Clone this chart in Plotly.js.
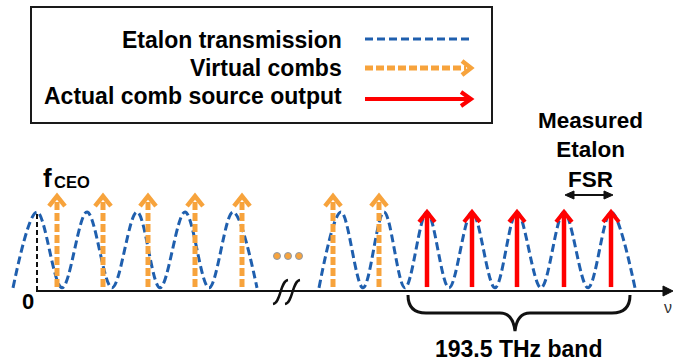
<!DOCTYPE html>
<html>
<head>
<meta charset="utf-8">
<script src="https://cdn.plot.ly/plotly-3.0.1.min.js"></script>
<style>html,body{margin:0;padding:0;background:#fff;}#chart{width:673px;height:363px;}</style>
</head>
<body>
<div id="chart"></div>
<script>
// ---------------- data ----------------
// etalon transmission: peak and trough positions (frequency axis, arbitrary units)
const etalonPeaks1   = [37, 87, 137, 185, 233];
const etalonTroughs1 = [13, 62, 112, 160, 209, 257];
const etalonPeaks2   = [341, 384, 427, 472, 517, 564, 611];
const etalonTroughs2 = [319, 363, 405, 449, 495, 541, 588, 635];
const peakT = 1.0;      // normalised transmission at peaks
const troughT = 0.04;   // transmission at troughs
// virtual comb lines (orange dashed arrows)
const virtualX1 = [57, 103, 148, 195, 242];
const virtualX2 = [333, 379];
const virtualTop = 1.2;
// actual comb source output lines (red arrows)
const actualX = [427, 472, 517, 564, 611];
const actualTop = 1.0;
const combBase = 0.05;
// labels
const legendLabels = ['Etalon transmission', 'Virtual combs', 'Actual comb source output'];
const zeroLabel = '0';
const bandLabel = '193.5 THz band';
const fsrLabel = 'Measured<br>Etalon<br>FSR';
const axisLabel = 'ν';

// ---------------- geometry helpers ----------------
const W = 673, H = 363;
const BASE_PX = 291, UNIT_PX = 79;            // y: 0 at axis line, 1 at etalon peak
const yRange = [(BASE_PX - H) / UNIT_PX, BASE_PX / UNIT_PX];
const pxY = p => p / UNIT_PX;                 // pixel length -> y units
const PX = x => x / W;
const PY = y => 1 - y / H;
const P = (x, y) => PX(x).toFixed(5) + ',' + PY(y).toFixed(5);

const BLUE = '#1f5fae', ORANGE = '#f7a33c', RED = '#ff0000', BLACK = '#111111';
const FONT = 'Liberation Sans, Arial, sans-serif';

function interleave(troughs, peaks) {
  const xs = [], ys = [];
  for (let i = 0; i < troughs.length; i++) {
    xs.push(troughs[i]); ys.push(troughT);
    if (i < peaks.length) { xs.push(peaks[i]); ys.push(peakT); }
  }
  return {xs, ys};
}
const g1 = interleave(etalonTroughs1, etalonPeaks1);
const g2 = interleave(etalonTroughs2, etalonPeaks2);

function arrows(xs, top, headDx, headDy, shaftGap) {
  const sx = [], sy = [], hx = [], hy = [];
  xs.forEach(x => {
    sx.push(x, x, null); sy.push(combBase, top - shaftGap, null);
    hx.push(x - headDx, x, x + headDx, null);
    hy.push(top - headDy, top, top - headDy, null);
  });
  return {sx, sy, hx, hy};
}
const vAll = virtualX1.concat(virtualX2);
const va = arrows(vAll, virtualTop, 8, pxY(10), pxY(3));
const ra = arrows(actualX, actualTop, 8, pxY(10), pxY(2));

const traces = [
  {x: g1.xs, y: g1.ys, mode: 'lines', line: {shape: 'spline', smoothing: 1, color: BLUE, width: 3, dash: '8px,4px'}, hoverinfo: 'skip'},
  {x: g2.xs, y: g2.ys, mode: 'lines', line: {shape: 'spline', smoothing: 1, color: BLUE, width: 3, dash: '8px,4px'}, hoverinfo: 'skip'},
  {x: va.sx, y: va.sy, mode: 'lines', line: {color: ORANGE, width: 5, dash: '8px,3px'}, hoverinfo: 'skip'},
  {x: va.hx, y: va.hy, mode: 'lines', line: {color: ORANGE, width: 4.5}, hoverinfo: 'skip'},
  {x: ra.sx, y: ra.sy, mode: 'lines', line: {color: RED, width: 4.5}, hoverinfo: 'skip'},
  {x: ra.hx, y: ra.hy, mode: 'lines', line: {color: RED, width: 4}, hoverinfo: 'skip'}
];

const shapes = [
  // legend box
  {type: 'rect', xref: 'paper', yref: 'paper', x0: PX(31), x1: PX(492), y0: PY(123), y1: PY(7), line: {color: '#1a1a1a', width: 2}},
  // legend samples
  {type: 'line', xref: 'paper', yref: 'paper', x0: PX(365), x1: PX(470), y0: PY(39), y1: PY(39), line: {color: BLUE, width: 3, dash: '8px,4px'}},
  {type: 'line', xref: 'paper', yref: 'paper', x0: PX(365), x1: PX(466), y0: PY(68), y1: PY(68), line: {color: ORANGE, width: 5, dash: '8px,3px'}},
  {type: 'path', xref: 'paper', yref: 'paper', path: 'M' + P(462, 61) + 'L' + P(471, 68) + 'L' + P(462, 75), line: {color: ORANGE, width: 4.5}},
  {type: 'line', xref: 'paper', yref: 'paper', x0: PX(365), x1: PX(469), y0: PY(99), y1: PY(99), line: {color: RED, width: 4}},
  {type: 'path', xref: 'paper', yref: 'paper', path: 'M' + P(461, 92) + 'L' + P(471, 99) + 'L' + P(461, 106), line: {color: RED, width: 4}},
  // frequency axis
  {type: 'line', xref: 'paper', yref: 'paper', x0: PX(36), x1: PX(666), y0: PY(291), y1: PY(291), line: {color: BLACK, width: 2}},
  {type: 'path', xref: 'paper', yref: 'paper', path: 'M' + P(663, 286) + 'L' + P(673, 291) + 'L' + P(663, 296) + 'Z', fillcolor: BLACK, line: {color: BLACK, width: 1}},
  // axis break marks
  {type: 'path', xref: 'paper', yref: 'paper', path: 'M' + P(288, 280) + 'C' + P(280, 281) + ' ' + P(281, 303) + ' ' + P(273, 304), line: {color: BLACK, width: 2.5}},
  {type: 'path', xref: 'paper', yref: 'paper', path: 'M' + P(300, 280) + 'C' + P(292, 281) + ' ' + P(293, 303) + ' ' + P(285, 304), line: {color: BLACK, width: 2.5}},
  // zero marker (dashed line at first etalon peak)
  {type: 'line', xref: 'x', yref: 'y', x0: etalonPeaks1[0], x1: etalonPeaks1[0], y0: 0, y1: peakT, line: {color: BLACK, width: 2, dash: '5px,3px'}},
  // FSR double arrow
  {type: 'line', xref: 'paper', yref: 'paper', x0: PX(572), x1: PX(606), y0: PY(195), y1: PY(195), line: {color: BLACK, width: 2}},
  {type: 'path', xref: 'paper', yref: 'paper', path: 'M' + P(574, 191) + 'L' + P(565, 195) + 'L' + P(574, 199) + 'Z', fillcolor: BLACK, line: {color: BLACK, width: 1}},
  {type: 'path', xref: 'paper', yref: 'paper', path: 'M' + P(604, 191) + 'L' + P(613, 195) + 'L' + P(604, 199) + 'Z', fillcolor: BLACK, line: {color: BLACK, width: 1}},
  // brace
  {type: 'path', xref: 'paper', yref: 'paper',
   path: 'M' + P(408, 295) + 'Q' + P(408, 313) + ' ' + P(426, 313) + 'L' + P(500, 313) + 'Q' + P(513, 313) + ' ' + P(515, 331) +
         'Q' + P(517, 313) + ' ' + P(530, 313) + 'L' + P(612, 313) + 'Q' + P(630, 313) + ' ' + P(630, 295),
   line: {color: BLACK, width: 3}}
];
// "..." dots
[277, 288, 299].forEach(x => shapes.push({type: 'circle', xref: 'paper', yref: 'paper',
  x0: PX(x - 3.5), x1: PX(x + 3.5), y0: PY(259.5), y1: PY(252.5), fillcolor: ORANGE, line: {color: '#8f9aa8', width: 1}}));

const bold = (size) => ({family: FONT, size: size, color: '#000', weight: 700});
const ann = (x, y, text, font, xanchor) => ({xref: 'paper', yref: 'paper', x: PX(x), y: PY(y), text: text, showarrow: false,
  font: font, xanchor: xanchor || 'center', yanchor: 'middle'});

const annotations = [
  ann(344, 40, legendLabels[0], bold(23), 'right'),
  ann(344, 68, legendLabels[1], bold(23), 'right'),
  ann(344, 96, legendLabels[2], bold(23), 'right'),
  ann(590, 150, fsrLabel, bold(22.5)),
  ann(28, 301, zeroLabel, bold(22)),
  ann(518, 349, bandLabel, bold(23)),
  ann(41, 178, 'f', bold(26), 'left'),
  ann(52, 182, 'CEO', bold(16.5), 'left'),
  ann(662, 307, axisLabel, {family: FONT, size: 16, color: '#333'}, 'left')
];

const layout = {
  width: W, height: H,
  margin: {l: 0, r: 0, t: 0, b: 0, pad: 0},
  paper_bgcolor: '#fff', plot_bgcolor: '#fff',
  showlegend: false,
  xaxis: {range: [0, W], visible: false, fixedrange: true},
  yaxis: {range: yRange, visible: false, fixedrange: true},
  shapes: shapes,
  annotations: annotations
};
Plotly.newPlot('chart', traces, layout, {staticPlot: true, displayModeBar: false});
</script>
</body>
</html>
